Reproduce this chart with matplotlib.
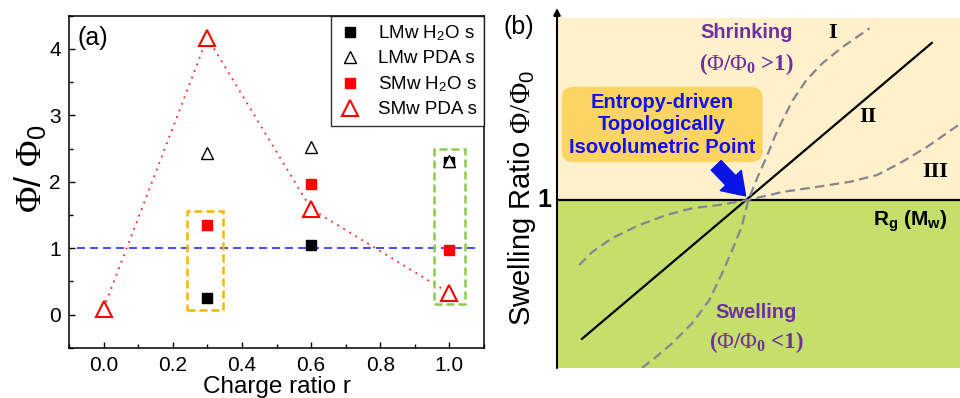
import numpy as np
import matplotlib
matplotlib.use("Agg")
import matplotlib.pyplot as plt
from matplotlib.patches import Rectangle, FancyBboxPatch

plt.rcParams['font.family'] = ['Liberation Sans', 'DejaVu Sans']
plt.rcParams['mathtext.fontset'] = 'custom'
plt.rcParams['mathtext.rm'] = 'Liberation Serif'
plt.rcParams['mathtext.it'] = 'Liberation Serif:italic'
plt.rcParams['mathtext.bf'] = 'Liberation Sans:bold'
plt.rcParams['mathtext.sf'] = 'Liberation Sans'
plt.rcParams['mathtext.cal'] = 'Liberation Serif:bold'

# ---------------- Panel (a) data ----------------
charge_ratio = [0.0, 0.3, 0.6, 1.0]
lmw_h2o = [np.nan, 0.25, 1.05, 2.30]
lmw_pda = [0.10, 2.43, 2.53, 2.31]
smw_h2o = [np.nan, 1.35, 1.97, 0.97]
smw_pda = [0.09, 4.17, 1.59, 0.32]
series_labels = [r'LMw H$_\mathsf{2}$O s', 'LMw PDA s',
                 r'SMw H$_\mathsf{2}$O s', 'SMw PDA s']
x_ticks = [0.0, 0.2, 0.4, 0.6, 0.8, 1.0]
y_ticks = [0, 1, 2, 3, 4]
reference_level = 1.0
# highlight boxes: (r_min, r_max, y_min, y_max)
box_orange = (0.241, 0.344, 0.065, 1.56)
box_green = (0.955, 1.045, 0.16, 2.49)

# ---------------- Panel (b) schematic data (normalized) ----------------
iso_point = (0.475, 0.468)
line2_x = [0.062, 0.930]
line2_y = [0.081, 0.903]
curve1_x = [0.211, 0.246, 0.286, 0.336, 0.378, 0.410, 0.435, 0.458, 0.475,
            0.498, 0.520, 0.540, 0.560, 0.585, 0.619, 0.659, 0.709, 0.776]
curve1_y = [0.000, 0.031, 0.069, 0.125, 0.189, 0.264, 0.328, 0.392, 0.467,
            0.531, 0.586, 0.642, 0.689, 0.744, 0.800, 0.847, 0.892, 0.944]
curve3_x = [0.055, 0.087, 0.137, 0.204, 0.271, 0.336, 0.403, 0.475, 0.560,
            0.644, 0.726, 0.794, 0.851, 0.918, 0.968, 1.000]
curve3_y = [0.286, 0.322, 0.361, 0.397, 0.425, 0.444, 0.453, 0.467, 0.489,
            0.503, 0.517, 0.536, 0.569, 0.614, 0.653, 0.678]

fig = plt.figure(figsize=(9.6, 3.98), dpi=100)

# ================= Panel (a) =================
ax = fig.add_axes([69/960, 1-347.7/398, 415/960, 332/398])
ax.plot(charge_ratio, lmw_h2o, 's', color='black', ms=7.8, label=series_labels[0], zorder=3)
ax.plot(charge_ratio, lmw_pda, '^', mfc='white', mec='black', mew=1.0, ms=8.5,
        label=series_labels[1], zorder=4)
ax.plot(charge_ratio, smw_h2o, 's', color='#ff0000', ms=7.8, label=series_labels[2], zorder=3)
ax.plot(charge_ratio, smw_pda, linestyle=(0, (1, 2.9)), color='#ff2020', lw=1.3, zorder=2)
ax.plot(charge_ratio, smw_pda, '^', mfc='white', mec='#ff0000', mew=1.5, ms=11.5,
        label=series_labels[3], zorder=5, linestyle='none')
ax.axhline(reference_level, xmin=0.02, xmax=0.98, color='#2a2aff', lw=1.2,
           linestyle=(0, (4.8, 3)), zorder=1)
for (x0, x1, y0, y1), c in [(box_orange, '#f7b500'), (box_green, '#8fcb4a')]:
    ax.add_patch(Rectangle((x0, y0), x1 - x0, y1 - y0, fill=False, edgecolor=c,
                           lw=1.8, linestyle=(0, (3.2, 1.6)), zorder=2))

ax.set_xlim(-0.1, 1.1)
ax.set_ylim(-0.38, 4.5)
ax.set_xticks(x_ticks)
ax.set_xticklabels(['%.1f' % v for v in x_ticks])
ax.set_yticks(y_ticks)
ax.set_xticks(np.arange(-0.1, 1.11, 0.2), minor=True)
ax.set_yticks(np.arange(-0.5, 4.6, 1.0), minor=True)
ax.tick_params(which='both', direction='in', top=False, right=False, labelsize=15,
               width=1.0, pad=6)
ax.tick_params(which='major', length=4)
ax.tick_params(which='minor', length=3)
for s in ax.spines.values():
    s.set_linewidth(1.1)
ax.set_xlabel('Charge ratio r', fontsize=17.5, labelpad=0.5)
ax.set_ylabel(r'$\Phi$/ $\Phi_\mathsf{0}$', fontsize=26)
ax.yaxis.set_label_coords(-0.045, 0.54)
ax.text(0.058, 0.933, '(a)', transform=ax.transAxes, fontsize=18, ha='center', va='center')
leg = ax.legend(loc='upper right', fontsize=13.5, frameon=True, fancybox=False,
                edgecolor='black', borderaxespad=0, labelspacing=0.38,
                handlelength=1.3, handletextpad=0.8, borderpad=0.4)
leg.get_frame().set_linewidth(1.0)

# ================= Panel (b) =================
bx = fig.add_axes([557/960, 30/398, 403/960, 360/398])
bx.set_xlim(0, 1)
bx.set_ylim(0, 1)
bx.axis('off')
peach_top = 0.972
bx.add_patch(Rectangle((0, iso_point[1]), 1, peach_top - iso_point[1], color='#fdf0cb', lw=0, zorder=0))
bx.add_patch(Rectangle((0, 0), 1, iso_point[1], color='#c5df6c', lw=0, zorder=0))
bx.plot([0, 1], [iso_point[1], iso_point[1]], color='black', lw=1.6, zorder=3)
bx.annotate('', xy=(0, 1.0), xytext=(0, 0), annotation_clip=False,
            arrowprops=dict(arrowstyle='-|>', color='black', lw=1.5, mutation_scale=10,
                            shrinkA=0, shrinkB=0), zorder=4)

bx.plot(line2_x, line2_y, color='black', lw=1.6, zorder=3)
bx.plot(curve1_x, curve1_y, color='#86868e', lw=1.6, linestyle=(0, (4.3, 2.4)), zorder=3)
bx.plot(curve3_x, curve3_y, color='#86868e', lw=1.6, linestyle=(0, (4.3, 2.4)), zorder=3)

purple = '#7030a0'
blue = '#1010f0'
bx.text(-0.095, 0.947, '(b)', fontsize=18, ha='center', va='center', transform=bx.transAxes)
bx.text(-0.087, 0.472, r'Swelling Ratio $\Phi/\Phi_\mathsf{0}$', fontsize=21, rotation=90,
        ha='center', va='center', transform=bx.transAxes)
bx.text(-0.032, 0.468, '1', fontsize=18, fontweight='bold', ha='center', va='center')
bx.text(0.470, 0.931, 'Shrinking', fontsize=14.5, fontweight='bold', color=purple, ha='center', va='center')
bx.text(0.470, 0.845, r'($\Phi$/$\Phi_\mathcal{0}$ >1)', fontsize=16.5, fontweight='bold',
        family='Liberation Serif', color=purple, ha='center', va='center')
bx.text(0.495, 0.153, 'Swelling', fontsize=14.5, fontweight='bold', color=purple, ha='center', va='center')
bx.text(0.495, 0.072, r'($\Phi$/$\Phi_\mathcal{0}$ <1)', fontsize=16.5, fontweight='bold',
        family='Liberation Serif', color=purple, ha='center', va='center')
bx.text(0.685, 0.931, 'I', fontsize=16, fontweight='bold', family='Liberation Serif', ha='center', va='center')
bx.text(0.772, 0.697, 'II', fontsize=16, fontweight='bold', family='Liberation Serif', ha='center', va='center')
bx.text(0.938, 0.544, 'III', fontsize=16, fontweight='bold', family='Liberation Serif', ha='center', va='center')
bx.text(0.876, 0.406, r'R$_\mathbf{g}$ (M$_\mathbf{w}$)', fontsize=15, fontweight='bold', ha='center', va='center')

bx.add_patch(FancyBboxPatch((0.012, 0.572), 0.498, 0.209,
                            boxstyle='round,pad=0,rounding_size=0.03',
                            facecolor='#fbd463', edgecolor='none', zorder=2))
bx.text(0.261, 0.675, 'Entropy-driven\nTopologically\nIsovolumetric Point', fontsize=14.5,
        fontweight='bold', color=blue, ha='center', va='center', linespacing=1.22, zorder=3)
bx.annotate('', xy=(0.468, 0.478), xytext=(0.395, 0.563),
            arrowprops=dict(arrowstyle='simple,head_length=0.7,head_width=0.95,tail_width=0.45',
                            color='#0a14e6', mutation_scale=22, shrinkA=0, shrinkB=0), zorder=5)

fig.savefig('out.png', dpi=100)
